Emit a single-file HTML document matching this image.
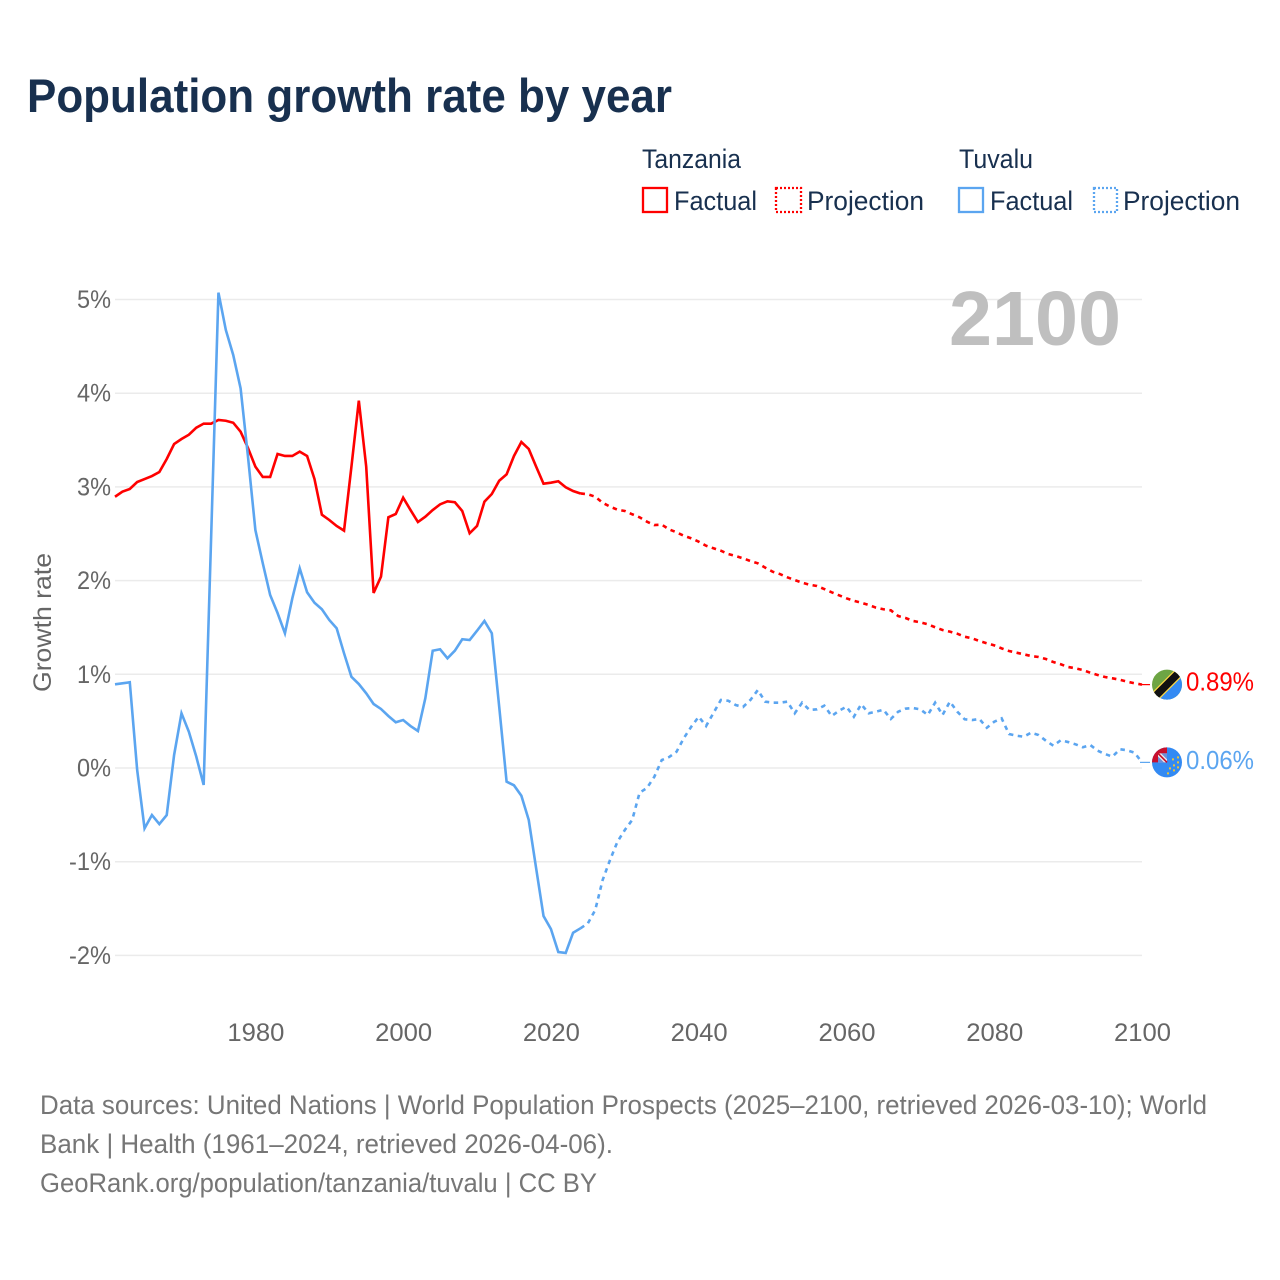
<!DOCTYPE html>
<html lang="en">
<head>
<meta charset="utf-8">
<title>Population growth rate by year</title>
<style>
html,body{margin:0;padding:0;background:#fff;width:1280px;height:1280px;overflow:hidden}
svg{display:block;font-family:"Liberation Sans",Arial,sans-serif}
</style>
</head>
<body>
<svg id="chart" width="1280" height="1280" viewBox="0 0 1280 1280" xmlns="http://www.w3.org/2000/svg">
  <defs>
    <clipPath id="tz-clip"><circle id="tz-clip-circle" r="15"></circle></clipPath>
    <clipPath id="tv-clip"><circle id="tv-clip-circle" r="15"></circle></clipPath>
  </defs>
  <rect width="1280" height="1280" fill="#ffffff"></rect>
  <text x="27" y="112" font-size="47" font-weight="700" fill="#18304f" textLength="645" lengthAdjust="spacingAndGlyphs">Population growth rate by year</text>

  <g font-size="27" fill="#18304f">
    <text x="642" y="168" textLength="99" lengthAdjust="spacingAndGlyphs">Tanzania</text>
    <rect x="643" y="188" width="24" height="24" fill="none" stroke="#ff0000" stroke-width="2.3"></rect>
    <text x="674" y="210" textLength="83" lengthAdjust="spacingAndGlyphs">Factual</text>
    <rect x="776" y="188" width="25" height="24" fill="none" stroke="#ff0000" stroke-width="2.3" stroke-dasharray="2 2"></rect>
    <text x="807" y="210" textLength="117" lengthAdjust="spacingAndGlyphs">Projection</text>
    <text x="959" y="168" textLength="74" lengthAdjust="spacingAndGlyphs">Tuvalu</text>
    <rect x="959" y="188" width="24" height="24" fill="none" stroke="#5ba5f0" stroke-width="2.3"></rect>
    <text x="990" y="210" textLength="83" lengthAdjust="spacingAndGlyphs">Factual</text>
    <rect x="1094" y="188" width="23" height="24" fill="none" stroke="#5ba5f0" stroke-width="2.3" stroke-dasharray="2 2"></rect>
    <text x="1123" y="210" textLength="117" lengthAdjust="spacingAndGlyphs">Projection</text>
  </g>

  <g id="grid"></g>
  <g id="y-axis" font-size="25" fill="#666666"></g>
  <g id="x-axis" font-size="25" fill="#666666"></g>
  <text transform="translate(51 692) rotate(-90)" font-size="25" fill="#666666" textLength="139" lengthAdjust="spacingAndGlyphs">Growth rate</text>

  <text x="949" y="345" font-size="77" font-weight="700" fill="#bfbfbf" textLength="172" lengthAdjust="spacingAndGlyphs">2100</text>

  <g id="series"></g>

  <g id="flag-tz">
    <g clip-path="url(#tz-clip)">
      <rect x="-16" y="-16" width="32" height="32" fill="#6da544"></rect>
      <polygon points="-16,16 16,-16 16,16" fill="#338af3"></polygon>
      <line x1="-16" y1="16" x2="16" y2="-16" stroke="#ffda44" stroke-width="10"></line>
      <line x1="-16" y1="16" x2="16" y2="-16" stroke="#111111" stroke-width="7.5"></line>
    </g>
  </g>
  <g id="flag-tv">
    <g clip-path="url(#tv-clip)">
      <rect x="-16" y="-16" width="32" height="32" fill="#338af3"></rect>
      <rect x="-16" y="-16" width="16" height="16" fill="#c8102e"></rect>
      <rect x="-9" y="-9" width="9" height="9" fill="#f0f0f0"></rect>
      <polygon points="-6,-9 0,-9 0,-3" fill="#6f8fd8"></polygon>
      <polygon points="-9,-6 -3,0 -9,0" fill="#6f8fd8"></polygon>
      <line x1="-9" y1="-9" x2="0" y2="0" stroke="#c8102e" stroke-width="1.6"></line>
    </g>
    <g fill="#e8c33a">
      <rect x="10" y="-6" width="2" height="2"></rect>
      <rect x="5" y="-4" width="2" height="2"></rect>
      <rect x="10" y="-1" width="2" height="2"></rect>
      <rect x="6" y="2" width="2" height="2"></rect>
      <rect x="10" y="4" width="2" height="2"></rect>
      <rect x="2" y="5" width="2" height="2"></rect>
      <rect x="6" y="7" width="2" height="2"></rect>
      <rect x="0" y="10" width="2" height="2"></rect>
    </g>
  </g>

  <text id="label-tz" x="1186" font-size="26" fill="#ff0000" textLength="68" lengthAdjust="spacingAndGlyphs"></text>
  <text id="label-tv" x="1186" font-size="26" fill="#5ba5f0" textLength="68" lengthAdjust="spacingAndGlyphs"></text>

  <g font-size="27" fill="#767676">
    <text x="40" y="1114" textLength="1167" lengthAdjust="spacingAndGlyphs">Data sources: United Nations | World Population Prospects (2025–2100, retrieved 2026-03-10); World</text>
    <text x="40" y="1153" textLength="573" lengthAdjust="spacingAndGlyphs">Bank | Health (1961–2024, retrieved 2026-04-06).</text>
    <text x="40" y="1192" textLength="557" lengthAdjust="spacingAndGlyphs">GeoRank.org/population/tanzania/tuvalu | CC BY</text>
  </g>
</svg>
<script>
var factualStartYear = 1961;
var projectionStartYear = 2025;
var yTickValues = [5, 4, 3, 2, 1, 0, -1, -2];
var xTickYears = [1980, 2000, 2020, 2040, 2060, 2080, 2100];
var tanzaniaFactual = [2.895,2.949,2.978,3.052,3.084,3.116,3.159,3.298,3.458,3.511,3.557,3.632,3.675,3.675,3.714,3.706,3.685,3.589,3.415,3.216,3.106,3.106,3.351,3.330,3.330,3.376,3.330,3.084,2.703,2.647,2.583,2.533,3.216,3.920,3.216,1.868,2.042,2.676,2.711,2.885,2.753,2.625,2.682,2.753,2.814,2.846,2.836,2.743,2.505,2.583,2.842,2.924,3.066,3.134,3.330,3.479,3.405,3.216,3.034,3.045,3.060,2.996,2.956,2.930];
var tanzaniaProjection = [2.921,2.895,2.831,2.789,2.757,2.743,2.708,2.676,2.629,2.593,2.597,2.547,2.515,2.479,2.451,2.415,2.372,2.345,2.319,2.284,2.263,2.238,2.209,2.185,2.138,2.095,2.070,2.035,2.006,1.978,1.956,1.942,1.910,1.875,1.843,1.811,1.785,1.764,1.740,1.711,1.694,1.683,1.622,1.601,1.569,1.555,1.534,1.502,1.473,1.455,1.433,1.401,1.384,1.355,1.331,1.309,1.277,1.249,1.231,1.213,1.195,1.185,1.163,1.131,1.107,1.078,1.064,1.046,1.017,0.993,0.971,0.957,0.942,0.921,0.904,0.890];
var tuvaluFactual = [0.893,0.904,0.915,-0.021,-0.644,-0.502,-0.598,-0.502,0.139,0.584,0.387,0.121,-0.181,2.433,5.073,4.675,4.408,4.052,3.322,2.540,2.185,1.846,1.654,1.438,1.811,2.131,1.875,1.764,1.694,1.580,1.491,1.224,0.974,0.896,0.797,0.683,0.630,0.555,0.488,0.512,0.448,0.395,0.744,1.252,1.267,1.171,1.252,1.374,1.366,1.465,1.569,1.438,0.654,-0.146,-0.185,-0.296,-0.555,-1.070,-1.580,-1.718,-1.964,-1.974,-1.758,-1.711];
var tuvaluProjection = [-1.658,-1.515,-1.195,-0.982,-0.787,-0.662,-0.555,-0.264,-0.213,-0.093,0.085,0.117,0.174,0.320,0.441,0.547,0.448,0.587,0.726,0.718,0.672,0.651,0.726,0.832,0.708,0.697,0.697,0.708,0.584,0.697,0.619,0.626,0.665,0.555,0.612,0.654,0.547,0.680,0.584,0.601,0.622,0.523,0.601,0.633,0.640,0.626,0.566,0.697,0.566,0.708,0.601,0.520,0.512,0.523,0.430,0.494,0.530,0.363,0.345,0.334,0.377,0.352,0.291,0.238,0.296,0.277,0.253,0.221,0.245,0.185,0.149,0.121,0.200,0.189,0.163,0.060];

var SVG_NS = 'http://www.w3.org/2000/svg';
function xScale(year) { return 115 + (year - 1961) * (1142 - 115) / 139; }
function yScale(value) { return 768 - value * 93.7; }
function make(tag, attrs, parent) {
  var el = document.createElementNS(SVG_NS, tag);
  for (var k in attrs) { el.setAttribute(k, attrs[k]); }
  parent.appendChild(el);
  return el;
}
var gridGroup = document.getElementById('grid');
var yAxisGroup = document.getElementById('y-axis');
var xAxisGroup = document.getElementById('x-axis');
var seriesGroup = document.getElementById('series');

yTickValues.forEach(function (v) {
  var line = make('line', {x1: 115, x2: 1142, y1: yScale(v), y2: yScale(v), stroke: '#ebebeb', 'stroke-width': 1.5}, gridGroup);
  
  
  var label = v + '%';
  var t = make('text', {x: 111, y: yScale(v) + 8.5, 'text-anchor': 'end', textLength: label.length === 2 ? 34 : 42, lengthAdjust: 'spacingAndGlyphs'}, yAxisGroup);
  t.textContent = label;
  
  
});
xTickYears.forEach(function (yr) {
  var t = make('text', {x: xScale(yr) + 0.5, y: 1041, 'text-anchor': 'middle', textLength: 57, lengthAdjust: 'spacingAndGlyphs'}, xAxisGroup);
  t.textContent = yr;
  
  
});
function pathFrom(values, startYear, prefix) {
  var d = prefix || '';
  values.forEach(function (v, i) {
    d += (d ? 'L' : 'M') + xScale(startYear + i).toFixed(2) + ' ' + yScale(v).toFixed(2);
  });
  return d;
}
function lastPoint(values, startYear) {
  var i = values.length - 1;
  return 'M' + xScale(startYear + i).toFixed(2) + ' ' + yScale(values[i]).toFixed(2);
}
function drawLine(d, color, dashed) {
  var attrs = {d: d, fill: 'none', stroke: color, 'stroke-width': 2.6, 'stroke-linejoin': 'miter'};
  if (dashed) { attrs['stroke-dasharray'] = '4.5 4.5'; }
  return make('path', attrs, seriesGroup);
}
var RED = '#ff0000';
var BLUE = '#5ba5f0';
var tzFact = drawLine(pathFrom(tanzaniaFactual, factualStartYear), RED, false);


var tvFact = drawLine(pathFrom(tuvaluFactual, factualStartYear), BLUE, false);


var tzProj = drawLine(pathFrom(tanzaniaProjection, projectionStartYear, lastPoint(tanzaniaFactual, factualStartYear)), RED, true);


var tvProj = drawLine(pathFrom(tuvaluProjection, projectionStartYear, lastPoint(tuvaluFactual, factualStartYear)), BLUE, true);



var tzEnd = tanzaniaProjection[tanzaniaProjection.length - 1];
var tvEnd = tuvaluProjection[tuvaluProjection.length - 1];
var tzConn = make('line', {x1: 1140, x2: 1150, y1: yScale(tzEnd), y2: yScale(tzEnd), stroke: RED, 'stroke-width': 1.2}, seriesGroup);


var tvConn = make('line', {x1: 1140, x2: 1150, y1: yScale(tvEnd), y2: yScale(tvEnd), stroke: BLUE, 'stroke-width': 1.2}, seriesGroup);



document.getElementById('flag-tz').setAttribute('transform', 'translate(1167 ' + yScale(tzEnd) + ')');
document.getElementById('flag-tv').setAttribute('transform', 'translate(1167 ' + yScale(tvEnd) + ')');
var tzLabel = document.getElementById('label-tz');
tzLabel.textContent = tzEnd.toFixed(2) + '%';
tzLabel.setAttribute('y', yScale(tzEnd) + 6);
var tvLabel = document.getElementById('label-tv');
tvLabel.textContent = tvEnd.toFixed(2) + '%';
tvLabel.setAttribute('y', yScale(tvEnd) + 6.6);
</script>
</body>
</html>
